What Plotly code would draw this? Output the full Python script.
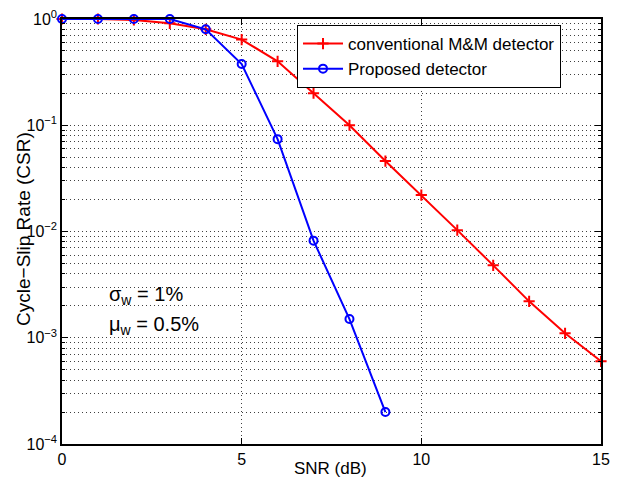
import plotly.graph_objects as go

snr_conv = [0, 1, 2, 3, 4, 5, 6, 7, 8, 9, 10, 11, 12, 13, 14, 15]
csr_conv = [1.0, 1.0, 0.98, 0.91, 0.80, 0.64, 0.40, 0.20, 0.10, 0.046, 0.022, 0.0103, 0.0048, 0.0022, 0.0011, 0.0006]
snr_prop = [0, 1, 2, 3, 4, 5, 6, 7, 8, 9]
csr_prop = [1.0, 1.0, 1.0, 1.0, 0.80, 0.377, 0.074, 0.0082, 0.0015, 0.0002]

ytick_vals = [1, 0.1, 0.01, 0.001, 0.0001]
ytick_text = ["10<sup>0</sup>", "10<sup>−1</sup>", "10<sup>−2</sup>", "10<sup>−3</sup>", "10<sup>−4</sup>"]
xtick_vals = [0, 5, 10, 15]

font_family = "Liberation Sans, Arial, Helvetica, sans-serif"

fig = go.Figure()
fig.add_trace(go.Scatter(
    x=snr_conv, y=csr_conv, mode="lines+markers", name="conventional M&M detector",
    line=dict(color="#ff0000", width=2), cliponaxis=False,
    marker=dict(symbol="cross-thin", size=8, line=dict(color="#ff0000", width=2)),
))
fig.add_trace(go.Scatter(
    x=snr_prop, y=csr_prop, mode="lines+markers", name="Proposed detector",
    line=dict(color="#0000ff", width=2), cliponaxis=False,
    marker=dict(symbol="circle-open", size=8, line=dict(color="#0000ff", width=2)),
))

grid_color = "#404040"
grid_dash = "1px,3px"
fig.update_xaxes(
    range=[0, 15], tickvals=xtick_vals, ticks="inside", ticklen=6, tickcolor="black",
    showline=True, linecolor="black", linewidth=1.5, mirror="ticks",
    showgrid=True, gridcolor=grid_color, griddash=grid_dash, gridwidth=1,
    zeroline=False, automargin=False, ticklabeloverflow="allow",
    tickfont=dict(size=16, color="black"),
)
fig.update_yaxes(
    type="log", range=[-4, 0], tickvals=ytick_vals, ticktext=ytick_text,
    ticks="inside", ticklen=6, tickcolor="black",
    showline=True, linecolor="black", linewidth=1.5, mirror="ticks",
    showgrid=True, gridcolor=grid_color, griddash=grid_dash, gridwidth=1,
    minor=dict(dtick="D1", ticks="inside", ticklen=3, tickcolor="black",
               showgrid=True, gridcolor=grid_color, griddash=grid_dash, gridwidth=1),
    zeroline=False, automargin=False, ticklabeloverflow="allow",
    tickfont=dict(size=16, color="black"),
)

# axis titles
fig.add_annotation(x=0.499, y=-0.0588, xref="paper", yref="paper", text="SNR (dB)",
                   showarrow=False, xanchor="center", yanchor="middle",
                   font=dict(size=17, color="black"))
fig.add_annotation(x=-0.0705, y=0.506, xref="paper", yref="paper", text="Cycle−Slip Rate (CSR)",
                   showarrow=False, xanchor="center", yanchor="middle", textangle=-90,
                   font=dict(size=19, color="black"))

fig.add_annotation(x=1.25, y=-2.6, xref="x", yref="y", text="σ<sub>w</sub> = 1%",
                   showarrow=False, xanchor="left", font=dict(size=20, color="black"))
fig.add_annotation(x=1.25, y=-2.88, xref="x", yref="y", text="μ<sub>w</sub> = 0.5%",
                   showarrow=False, xanchor="left", font=dict(size=20, color="black"))

# the page body adds an 8px margin, so the figure is 8px smaller and the margins compensate
fig.update_layout(
    width=612, height=473,
    margin=dict(l=54, r=19, t=11, b=37),
    paper_bgcolor="white", plot_bgcolor="white",
    font=dict(family=font_family, color="black"),
    showlegend=True,
    legend=dict(x=0.436, y=0.9859, xanchor="left", yanchor="top",
                bordercolor="black", borderwidth=1, bgcolor="white",
                font=dict(size=17, color="black"), tracegroupgap=0,
                itemwidth=40),
)

fig.write_html("out.html")
